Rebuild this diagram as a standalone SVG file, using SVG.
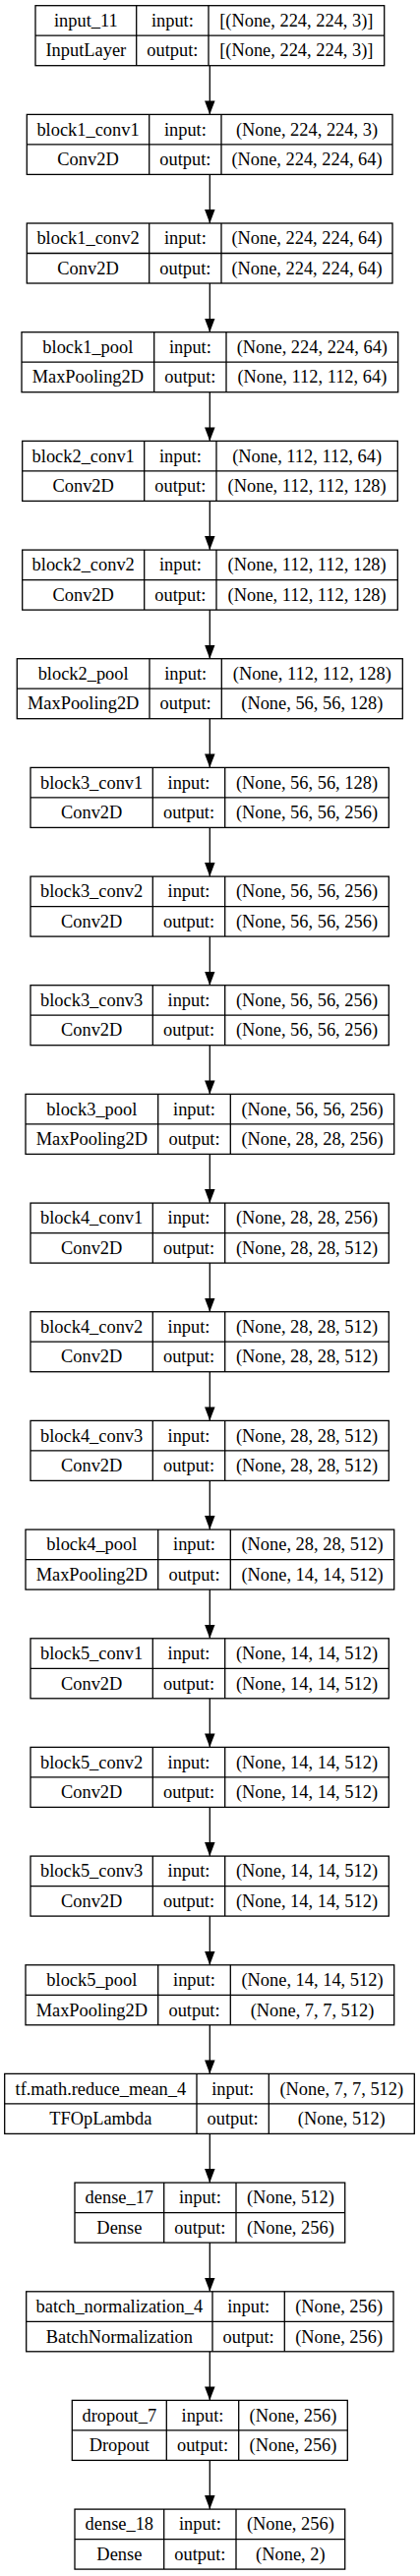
<svg xmlns="http://www.w3.org/2000/svg" width="427" height="2619" viewBox="0 0 427 2619">
<style>
.node rect{fill:#fff;stroke:#000;stroke-width:1.3}
.node path{fill:none;stroke:#000;stroke-width:1.3}
.node text{font-family:"Liberation Serif","Times New Roman",serif;font-size:18.4px;text-anchor:middle;fill:#000}
.edges path{fill:none;stroke:#000;stroke-width:1.3}
</style>
<defs>
<marker id="arr" markerUnits="userSpaceOnUse" viewBox="0 0 14 10.5" markerWidth="14" markerHeight="10.5" refX="14" refY="5.25" orient="auto">
<path d="M0,0 L14,5.25 L0,10.5 z" fill="#000"/>
</marker>
</defs>
<rect width="427" height="2619" fill="#fff"/>
<g class="edges">
<path d="M213.3 66.7V116.4" marker-end="url(#arr)"/>
<path d="M213.3 177.4V227" marker-end="url(#arr)"/>
<path d="M213.3 288V337.7" marker-end="url(#arr)"/>
<path d="M213.3 398.7V448.4" marker-end="url(#arr)"/>
<path d="M213.3 509.4V559.1" marker-end="url(#arr)"/>
<path d="M213.3 620.1V669.7" marker-end="url(#arr)"/>
<path d="M213.3 730.7V780.4" marker-end="url(#arr)"/>
<path d="M213.3 841.4V891.1" marker-end="url(#arr)"/>
<path d="M213.3 952.1V1001.7" marker-end="url(#arr)"/>
<path d="M213.3 1062.7V1112.4" marker-end="url(#arr)"/>
<path d="M213.3 1173.4V1223.1" marker-end="url(#arr)"/>
<path d="M213.3 1284.1V1333.7" marker-end="url(#arr)"/>
<path d="M213.3 1394.7V1444.4" marker-end="url(#arr)"/>
<path d="M213.3 1505.4V1555.1" marker-end="url(#arr)"/>
<path d="M213.3 1616.1V1665.8" marker-end="url(#arr)"/>
<path d="M213.3 1726.8V1776.4" marker-end="url(#arr)"/>
<path d="M213.3 1837.4V1887.1" marker-end="url(#arr)"/>
<path d="M213.3 1948.1V1997.8" marker-end="url(#arr)"/>
<path d="M213.3 2058.8V2108.4" marker-end="url(#arr)"/>
<path d="M213.3 2169.4V2219.1" marker-end="url(#arr)"/>
<path d="M213.3 2280.1V2329.8" marker-end="url(#arr)"/>
<path d="M213.3 2390.8V2440.4" marker-end="url(#arr)"/>
<path d="M213.3 2501.4V2551.1" marker-end="url(#arr)"/>
</g>
<g id="n0" class="node" transform="translate(0,5.7)">
<rect x="36" y="0" width="354.7" height="61"/>
<path d="M36 30.5H390.7M138.7 0V61M212 0V61"/>
<text x="87.35" y="21.3">input_11</text><text x="175.35" y="21.3">input:</text><text x="301.35" y="21.3">[(None, 224, 224, 3)]</text>
<text x="87.35" y="51.8">InputLayer</text><text x="175.35" y="51.8">output:</text><text x="301.35" y="51.8">[(None, 224, 224, 3)]</text>
</g>
<g id="n1" class="node" transform="translate(0,116.4)">
<rect x="27.3" y="0" width="371.7" height="61"/>
<path d="M27.3 30.5H399M151.7 0V61M225 0V61"/>
<text x="89.5" y="21.3">block1_conv1</text><text x="188.35" y="21.3">input:</text><text x="312" y="21.3">(None, 224, 224, 3)</text>
<text x="89.5" y="51.8">Conv2D</text><text x="188.35" y="51.8">output:</text><text x="312" y="51.8">(None, 224, 224, 64)</text>
</g>
<g id="n2" class="node" transform="translate(0,227)">
<rect x="27.3" y="0" width="371.7" height="61"/>
<path d="M27.3 30.5H399M151.7 0V61M225 0V61"/>
<text x="89.5" y="21.3">block1_conv2</text><text x="188.35" y="21.3">input:</text><text x="312" y="21.3">(None, 224, 224, 64)</text>
<text x="89.5" y="51.8">Conv2D</text><text x="188.35" y="51.8">output:</text><text x="312" y="51.8">(None, 224, 224, 64)</text>
</g>
<g id="n3" class="node" transform="translate(0,337.7)">
<rect x="22" y="0" width="382.7" height="61"/>
<path d="M22 30.5H404.7M156.7 0V61M230 0V61"/>
<text x="89.35" y="21.3">block1_pool</text><text x="193.35" y="21.3">input:</text><text x="317.35" y="21.3">(None, 224, 224, 64)</text>
<text x="89.35" y="51.8">MaxPooling2D</text><text x="193.35" y="51.8">output:</text><text x="317.35" y="51.8">(None, 112, 112, 64)</text>
</g>
<g id="n4" class="node" transform="translate(0,448.4)">
<rect x="22.7" y="0" width="381.6" height="61"/>
<path d="M22.7 30.5H404.3M146.7 0V61M220 0V61"/>
<text x="84.7" y="21.3">block2_conv1</text><text x="183.35" y="21.3">input:</text><text x="312.15" y="21.3">(None, 112, 112, 64)</text>
<text x="84.7" y="51.8">Conv2D</text><text x="183.35" y="51.8">output:</text><text x="312.15" y="51.8">(None, 112, 112, 128)</text>
</g>
<g id="n5" class="node" transform="translate(0,559.1)">
<rect x="22.7" y="0" width="381.6" height="61"/>
<path d="M22.7 30.5H404.3M146.7 0V61M220 0V61"/>
<text x="84.7" y="21.3">block2_conv2</text><text x="183.35" y="21.3">input:</text><text x="312.15" y="21.3">(None, 112, 112, 128)</text>
<text x="84.7" y="51.8">Conv2D</text><text x="183.35" y="51.8">output:</text><text x="312.15" y="51.8">(None, 112, 112, 128)</text>
</g>
<g id="n6" class="node" transform="translate(0,669.7)">
<rect x="17.3" y="0" width="392" height="61"/>
<path d="M17.3 30.5H409.3M152 0V61M225.3 0V61"/>
<text x="84.65" y="21.3">block2_pool</text><text x="188.65" y="21.3">input:</text><text x="317.3" y="21.3">(None, 112, 112, 128)</text>
<text x="84.65" y="51.8">MaxPooling2D</text><text x="188.65" y="51.8">output:</text><text x="317.3" y="51.8">(None, 56, 56, 128)</text>
</g>
<g id="n7" class="node" transform="translate(0,780.4)">
<rect x="31" y="0" width="364.3" height="61"/>
<path d="M31 30.5H395.3M155.3 0V61M228.7 0V61"/>
<text x="93.15" y="21.3">block3_conv1</text><text x="192" y="21.3">input:</text><text x="312" y="21.3">(None, 56, 56, 128)</text>
<text x="93.15" y="51.8">Conv2D</text><text x="192" y="51.8">output:</text><text x="312" y="51.8">(None, 56, 56, 256)</text>
</g>
<g id="n8" class="node" transform="translate(0,891.1)">
<rect x="31" y="0" width="364.3" height="61"/>
<path d="M31 30.5H395.3M155.3 0V61M228.7 0V61"/>
<text x="93.15" y="21.3">block3_conv2</text><text x="192" y="21.3">input:</text><text x="312" y="21.3">(None, 56, 56, 256)</text>
<text x="93.15" y="51.8">Conv2D</text><text x="192" y="51.8">output:</text><text x="312" y="51.8">(None, 56, 56, 256)</text>
</g>
<g id="n9" class="node" transform="translate(0,1001.7)">
<rect x="31" y="0" width="364.3" height="61"/>
<path d="M31 30.5H395.3M155.3 0V61M228.7 0V61"/>
<text x="93.15" y="21.3">block3_conv3</text><text x="192" y="21.3">input:</text><text x="312" y="21.3">(None, 56, 56, 256)</text>
<text x="93.15" y="51.8">Conv2D</text><text x="192" y="51.8">output:</text><text x="312" y="51.8">(None, 56, 56, 256)</text>
</g>
<g id="n10" class="node" transform="translate(0,1112.4)">
<rect x="26" y="0" width="374.7" height="61"/>
<path d="M26 30.5H400.7M160.7 0V61M234.3 0V61"/>
<text x="93.35" y="21.3">block3_pool</text><text x="197.5" y="21.3">input:</text><text x="317.5" y="21.3">(None, 56, 56, 256)</text>
<text x="93.35" y="51.8">MaxPooling2D</text><text x="197.5" y="51.8">output:</text><text x="317.5" y="51.8">(None, 28, 28, 256)</text>
</g>
<g id="n11" class="node" transform="translate(0,1223.1)">
<rect x="31" y="0" width="364.3" height="61"/>
<path d="M31 30.5H395.3M155.3 0V61M228.7 0V61"/>
<text x="93.15" y="21.3">block4_conv1</text><text x="192" y="21.3">input:</text><text x="312" y="21.3">(None, 28, 28, 256)</text>
<text x="93.15" y="51.8">Conv2D</text><text x="192" y="51.8">output:</text><text x="312" y="51.8">(None, 28, 28, 512)</text>
</g>
<g id="n12" class="node" transform="translate(0,1333.7)">
<rect x="31" y="0" width="364.3" height="61"/>
<path d="M31 30.5H395.3M155.3 0V61M228.7 0V61"/>
<text x="93.15" y="21.3">block4_conv2</text><text x="192" y="21.3">input:</text><text x="312" y="21.3">(None, 28, 28, 512)</text>
<text x="93.15" y="51.8">Conv2D</text><text x="192" y="51.8">output:</text><text x="312" y="51.8">(None, 28, 28, 512)</text>
</g>
<g id="n13" class="node" transform="translate(0,1444.4)">
<rect x="31" y="0" width="364.3" height="61"/>
<path d="M31 30.5H395.3M155.3 0V61M228.7 0V61"/>
<text x="93.15" y="21.3">block4_conv3</text><text x="192" y="21.3">input:</text><text x="312" y="21.3">(None, 28, 28, 512)</text>
<text x="93.15" y="51.8">Conv2D</text><text x="192" y="51.8">output:</text><text x="312" y="51.8">(None, 28, 28, 512)</text>
</g>
<g id="n14" class="node" transform="translate(0,1555.1)">
<rect x="26" y="0" width="374.7" height="61"/>
<path d="M26 30.5H400.7M160.7 0V61M234.3 0V61"/>
<text x="93.35" y="21.3">block4_pool</text><text x="197.5" y="21.3">input:</text><text x="317.5" y="21.3">(None, 28, 28, 512)</text>
<text x="93.35" y="51.8">MaxPooling2D</text><text x="197.5" y="51.8">output:</text><text x="317.5" y="51.8">(None, 14, 14, 512)</text>
</g>
<g id="n15" class="node" transform="translate(0,1665.8)">
<rect x="31" y="0" width="364.3" height="61"/>
<path d="M31 30.5H395.3M155.3 0V61M228.7 0V61"/>
<text x="93.15" y="21.3">block5_conv1</text><text x="192" y="21.3">input:</text><text x="312" y="21.3">(None, 14, 14, 512)</text>
<text x="93.15" y="51.8">Conv2D</text><text x="192" y="51.8">output:</text><text x="312" y="51.8">(None, 14, 14, 512)</text>
</g>
<g id="n16" class="node" transform="translate(0,1776.4)">
<rect x="31" y="0" width="364.3" height="61"/>
<path d="M31 30.5H395.3M155.3 0V61M228.7 0V61"/>
<text x="93.15" y="21.3">block5_conv2</text><text x="192" y="21.3">input:</text><text x="312" y="21.3">(None, 14, 14, 512)</text>
<text x="93.15" y="51.8">Conv2D</text><text x="192" y="51.8">output:</text><text x="312" y="51.8">(None, 14, 14, 512)</text>
</g>
<g id="n17" class="node" transform="translate(0,1887.1)">
<rect x="31" y="0" width="364.3" height="61"/>
<path d="M31 30.5H395.3M155.3 0V61M228.7 0V61"/>
<text x="93.15" y="21.3">block5_conv3</text><text x="192" y="21.3">input:</text><text x="312" y="21.3">(None, 14, 14, 512)</text>
<text x="93.15" y="51.8">Conv2D</text><text x="192" y="51.8">output:</text><text x="312" y="51.8">(None, 14, 14, 512)</text>
</g>
<g id="n18" class="node" transform="translate(0,1997.8)">
<rect x="26" y="0" width="374.7" height="61"/>
<path d="M26 30.5H400.7M160.7 0V61M234.3 0V61"/>
<text x="93.35" y="21.3">block5_pool</text><text x="197.5" y="21.3">input:</text><text x="317.5" y="21.3">(None, 14, 14, 512)</text>
<text x="93.35" y="51.8">MaxPooling2D</text><text x="197.5" y="51.8">output:</text><text x="317.5" y="51.8">(None, 7, 7, 512)</text>
</g>
<g id="n19" class="node" transform="translate(0,2108.4)">
<rect x="4.7" y="0" width="416.6" height="61"/>
<path d="M4.7 30.5H421.3M200 0V61M273.3 0V61"/>
<text x="102.35" y="21.3">tf.math.reduce_mean_4</text><text x="236.65" y="21.3">input:</text><text x="347.3" y="21.3">(None, 7, 7, 512)</text>
<text x="102.35" y="51.8">TFOpLambda</text><text x="236.65" y="51.8">output:</text><text x="347.3" y="51.8">(None, 512)</text>
</g>
<g id="n20" class="node" transform="translate(0,2219.1)">
<rect x="76" y="0" width="274.7" height="61"/>
<path d="M76 30.5H350.7M166.7 0V61M240 0V61"/>
<text x="121.35" y="21.3">dense_17</text><text x="203.35" y="21.3">input:</text><text x="295.35" y="21.3">(None, 512)</text>
<text x="121.35" y="51.8">Dense</text><text x="203.35" y="51.8">output:</text><text x="295.35" y="51.8">(None, 256)</text>
</g>
<g id="n21" class="node" transform="translate(0,2329.8)">
<rect x="26.7" y="0" width="373.3" height="61"/>
<path d="M26.7 30.5H400M216 0V61M289.3 0V61"/>
<text x="121.35" y="21.3">batch_normalization_4</text><text x="252.65" y="21.3">input:</text><text x="344.65" y="21.3">(None, 256)</text>
<text x="121.35" y="51.8">BatchNormalization</text><text x="252.65" y="51.8">output:</text><text x="344.65" y="51.8">(None, 256)</text>
</g>
<g id="n22" class="node" transform="translate(0,2440.4)">
<rect x="73.3" y="0" width="280" height="61"/>
<path d="M73.3 30.5H353.3M169.3 0V61M242.7 0V61"/>
<text x="121.3" y="21.3">dropout_7</text><text x="206" y="21.3">input:</text><text x="298" y="21.3">(None, 256)</text>
<text x="121.3" y="51.8">Dropout</text><text x="206" y="51.8">output:</text><text x="298" y="51.8">(None, 256)</text>
</g>
<g id="n23" class="node" transform="translate(0,2551.1)">
<rect x="76" y="0" width="274.7" height="61"/>
<path d="M76 30.5H350.7M166.7 0V61M240 0V61"/>
<text x="121.35" y="21.3">dense_18</text><text x="203.35" y="21.3">input:</text><text x="295.35" y="21.3">(None, 256)</text>
<text x="121.35" y="51.8">Dense</text><text x="203.35" y="51.8">output:</text><text x="295.35" y="51.8">(None, 2)</text>
</g>
</svg>
